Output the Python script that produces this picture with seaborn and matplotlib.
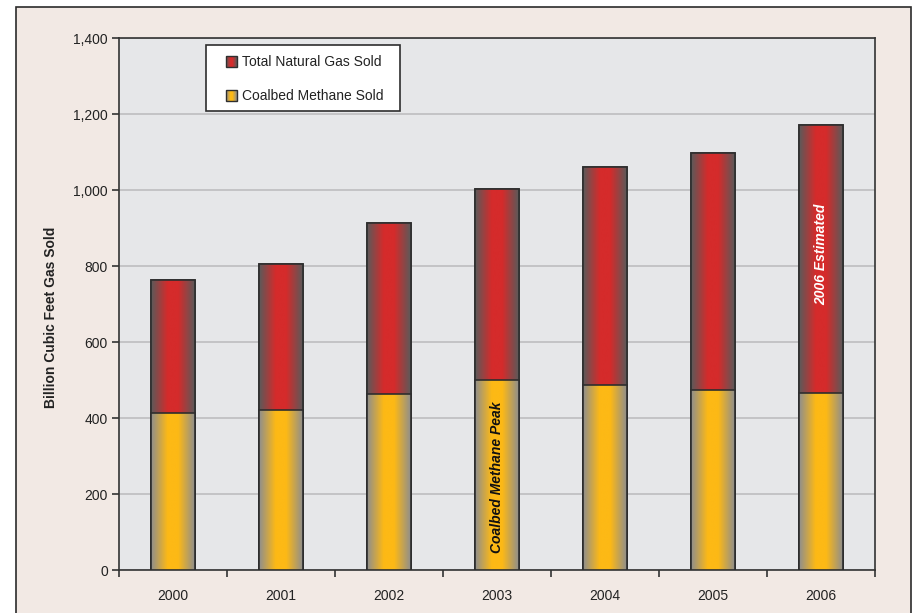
import numpy as np
import pandas as pd
import matplotlib
matplotlib.use("Agg")
import matplotlib.pyplot as plt
import seaborn as sns
from matplotlib.colors import LinearSegmentedColormap
from matplotlib.patches import Rectangle, Patch
from matplotlib.legend_handler import HandlerBase

# Annual gas sales (billion cubic feet)
years = ["2000", "2001", "2002", "2003", "2004", "2005", "2006"]
total_gas = [762, 806, 913, 1002, 1060, 1098, 1170]
coalbed_methane = [412, 421, 464, 500, 487, 474, 467]
y_ticks = [0, 200, 400, 600, 800, 1000, 1200, 1400]
y_tick_labels = ["0", "200", "400", "600", "800", "1,000", "1,200", "1,400"]

df = pd.DataFrame({"year": years, "total": total_gas, "cbm": coalbed_methane})

sns.set_theme(style="white")
plt.rcParams["font.family"] = ["Liberation Sans", "DejaVu Sans"]

FS = 10
RED, YELLOW = "#d52b2b", "#fdb915"
red_cmap = LinearSegmentedColormap.from_list(
    "redbar", [(0, "#5a5a5a"), (0.38, RED), (0.62, RED), (1, "#5a5a5a")])
yel_cmap = LinearSegmentedColormap.from_list(
    "yelbar", [(0, "#8e8e8e"), (0.38, YELLOW), (0.62, YELLOW), (1, "#8e8e8e")])

fig = plt.figure(figsize=(9.14, 6.13), dpi=100, facecolor="white")
# outer panel
fig.patches.append(Rectangle((16 / 914, -0.01), (911 - 16) / 914, 1 - 7 / 613 + 0.01,
                             transform=fig.transFigure, facecolor="#f2e9e4",
                             edgecolor="#2b2b2b", linewidth=1.2, zorder=-5))

ax = fig.add_axes([119 / 914, 1 - 570 / 613, (875 - 119) / 914, (570 - 38) / 613])
ax.set_zorder(2)
ax.set_facecolor("#e6e7e9")

sns.barplot(data=df, x="year", y="total", color=RED, width=0.4, ax=ax,
            edgecolor="#2e2e2e", linewidth=1.2, saturation=1, zorder=3)
n_total = len(ax.patches)
sns.barplot(data=df, x="year", y="cbm", color=YELLOW, width=0.4, ax=ax,
            edgecolor="#2e2e2e", linewidth=1.2, saturation=1, zorder=3)

# horizontal shading inside every bar
grad = np.linspace(0, 1, 256).reshape(1, -1)
for i, p in enumerate(list(ax.patches)):
    cmap = red_cmap if i < n_total else yel_cmap
    z = 3.1 if i < n_total else 3.3
    x0, y0 = p.get_x(), p.get_y()
    w, h = p.get_width(), p.get_height()
    im = ax.imshow(grad, extent=[x0, x0 + w, y0, y0 + h], aspect="auto",
                   cmap=cmap, interpolation="bilinear", zorder=z)
    im.set_clip_path(p)
    ax.add_patch(Rectangle((x0, y0), w, h, fill=False, edgecolor="#2e2e2e",
                           linewidth=1.2, zorder=z + 0.05))

ax.set_xlim(-0.5, 6.5)
ax.set_ylim(0, 1400)
ax.set_yticks(y_ticks)
ax.set_yticklabels(y_tick_labels)
ax.yaxis.grid(True, color="#c4c4c6", linewidth=1.4, zorder=1)
ax.set_axisbelow(True)

ax.set_xticks(range(len(years)))
ax.set_xticklabels(years)
ax.set_xticks(np.arange(-0.5, 7, 1), minor=True)
ax.tick_params(axis="x", which="major", length=0, pad=14, labelsize=FS, colors="#222222")
ax.tick_params(axis="x", which="minor", length=5, width=1.2, direction="out",
               color="#333333", bottom=True)
ax.tick_params(axis="y", length=5, width=1.2, direction="out", color="#333333",
               left=True, labelsize=FS, colors="#222222", pad=3)

for s in ax.spines.values():
    s.set_visible(True)
    s.set_color("#333333")
    s.set_linewidth(1.2)

ax.set_xlabel("")
ax.set_ylabel("Billion Cubic Feet Gas Sold", fontsize=FS, fontweight="bold",
              color="#222222")
ax.yaxis.label.set_va("center")
ax.yaxis.set_label_coords((51 - 119) / 756, (570 - 317) / 532)

ax.text(3, 245, "Coalbed Methane Peak", rotation=90, ha="center", va="center",
        fontsize=FS, fontweight="bold", fontstyle="italic", color="#111111", zorder=5)
ax.text(6, 832, "2006 Estimated", rotation=90, ha="center", va="center",
        fontsize=FS, fontweight="bold", fontstyle="italic", color="white", zorder=5)


class GradientHandler(HandlerBase):
    def __init__(self, cmap):
        super().__init__()
        self.cmap = cmap

    def create_artists(self, legend, orig_handle, xdescent, ydescent,
                       width, height, fontsize, trans):
        artists = []
        n = 12
        for k in range(n):
            artists.append(Rectangle((-xdescent + width * k / n, -ydescent),
                                     width / n + 0.2, height,
                                     facecolor=self.cmap((k + 0.5) / n),
                                     edgecolor="none", transform=trans))
        artists.append(Rectangle((-xdescent, -ydescent), width, height, fill=False,
                                 edgecolor="#2e2e2e", linewidth=1.0, transform=trans))
        return artists


# legend box
ax.add_patch(Rectangle(((206 - 119) / 756, (570 - 111) / 532),
                       (400 - 206) / 756, (111 - 45) / 532,
                       transform=ax.transAxes, facecolor="white",
                       edgecolor="#2e2e2e", linewidth=1.2, zorder=6))

h_total = Patch(label="Total Natural Gas Sold")
h_cbm = Patch(label="Coalbed Methane Sold")
leg = ax.legend(handles=[h_total, h_cbm], loc="center left",
                bbox_to_anchor=((226 - 119) / 756, (570 - 79) / 532), frameon=False,
                handler_map={h_total: GradientHandler(red_cmap),
                             h_cbm: GradientHandler(yel_cmap)},
                handlelength=0.8, handleheight=0.85, handletextpad=0.35,
                labelspacing=1.45, borderpad=0, borderaxespad=0,
                fontsize=FS)
leg.set_zorder(7)
for t in leg.get_texts():
    t.set_color("#222222")

fig.savefig("out.png", dpi=100, facecolor=fig.get_facecolor())
